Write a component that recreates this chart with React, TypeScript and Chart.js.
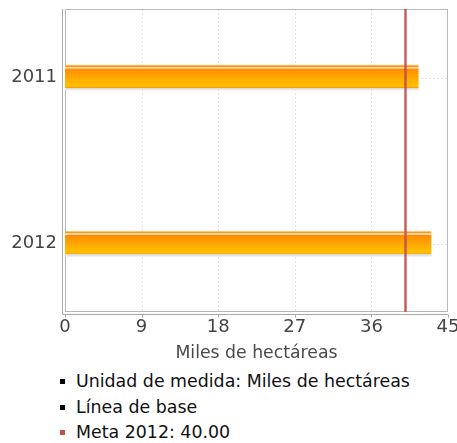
import React, { useEffect, useRef } from 'react';
import { Chart, registerables } from 'chart.js';

Chart.register(...registerables);

const CATEGORIES = ['2011', '2012'];
const VALUES = [41.5, 43.0];
const META = 40;
const X_TICKS = [0, 9, 18, 27, 36, 45];
const AXIS_TITLE = 'Miles de hectáreas';
const LEGEND_LABELS = ['Unidad de medida: Miles de hectáreas', 'Línea de base', 'Meta 2012: 40.00'];
const LEGEND_COLORS = ['#000000', '#000000', '#c0504d'];

const FONT = '"DejaVu Sans", sans-serif';
const BAR_THICK = 25;

const framePlugin = {
  id: 'frame',
  beforeDatasetsDraw(chart: any) {
    const { ctx, chartArea: a, scales } = chart;
    const xs = scales.x;
    const ys = scales.y;
    ctx.save();
    ctx.lineWidth = 1;
    ctx.strokeStyle = '#e2e2e2';
    ctx.setLineDash([2, 2]);
    X_TICKS.slice(1, -1).forEach((v) => {
      const px = Math.round(xs.getPixelForValue(v)) + 0.5;
      ctx.beginPath();
      ctx.moveTo(px, a.top);
      ctx.lineTo(px, a.bottom);
      ctx.stroke();
    });
    CATEGORIES.forEach((_, i) => {
      const py = Math.round(ys.getPixelForValue(i)) + 0.5;
      ctx.beginPath();
      ctx.moveTo(a.left, py);
      ctx.lineTo(a.right, py);
      ctx.stroke();
    });
    ctx.setLineDash([]);
    ctx.strokeStyle = '#b8b8b8';
    ctx.strokeRect(Math.round(a.left) + 0.5, Math.round(a.top) + 0.5, Math.round(a.width) - 1, Math.round(a.height) - 1);
    ctx.strokeStyle = '#a8a8a8';
    const lx = Math.round(a.left) - 3 + 0.5;
    const by = Math.round(a.bottom) + 2 + 0.5;
    ctx.beginPath();
    ctx.moveTo(lx, a.top);
    ctx.lineTo(lx, by);
    ctx.lineTo(a.right, by);
    ctx.stroke();
    X_TICKS.forEach((v) => {
      const px = Math.round(xs.getPixelForValue(v)) + 0.5;
      ctx.beginPath();
      ctx.moveTo(px, by);
      ctx.lineTo(px, by + 3);
      ctx.stroke();
    });
    ctx.restore();
  },
  afterDatasetsDraw(chart: any) {
    const { ctx, chartArea: a, scales } = chart;
    const px = Math.round(scales.x.getPixelForValue(META));
    ctx.save();
    ctx.fillStyle = 'rgba(200,80,80,0.35)';
    ctx.fillRect(px - 1, a.top, 3, a.height);
    ctx.fillStyle = 'rgba(196,76,76,0.9)';
    ctx.fillRect(px - 0.5, a.top, 2, a.height);
    ctx.restore();
  },
};

function barFill(context: any) {
  const chart = context.chart;
  const ys = chart.scales && chart.scales.y;
  if (!ys || context.type !== 'data' || !chart.chartArea) return '#ff9900';
  const yc = ys.getPixelForValue(context.dataIndex);
  if (!Number.isFinite(yc)) return '#ff9900';
  const t = yc - BAR_THICK / 2;
  const g = chart.ctx.createLinearGradient(0, t, 0, t + BAR_THICK);
  const s = (p: number) => p / BAR_THICK;
  g.addColorStop(0, 'rgba(255,170,60,0.6)');
  g.addColorStop(s(1), '#ff9410');
  g.addColorStop(s(1.9), '#ff9410');
  g.addColorStop(s(2.1), '#ffd9a8');
  g.addColorStop(s(3.4), '#ffd0a0');
  g.addColorStop(s(3.8), '#ff8c00');
  g.addColorStop(s(20.5), '#ffc000');
  g.addColorStop(s(22), '#ffb800');
  g.addColorStop(s(22.5), '#ff9c10');
  g.addColorStop(s(23), '#d8d8d8');
  g.addColorStop(1, '#ececec');
  return g;
}

export default function App() {
  const ref = useRef<HTMLCanvasElement | null>(null);

  useEffect(() => {
    if (!ref.current) return;
    const chart = new Chart(ref.current, {
      type: 'bar',
      data: {
        datasets: [
          {
            label: 'Valor',
            data: VALUES.map((v, i) => ({ x: v, y: i })),
            backgroundColor: barFill,
            borderWidth: 0,
            barThickness: BAR_THICK,
          },
        ],
      },
      plugins: [framePlugin],
      options: {
        animation: false,
        responsive: false,
        indexAxis: 'y',
        layout: { padding: { top: 9, right: 9, left: 0, bottom: 0 } },
        plugins: {
          legend: { display: false },
          tooltip: { enabled: false },
          title: { display: false },
        },
        scales: {
          x: {
            type: 'linear',
            position: 'bottom',
            min: 0,
            max: 45,
            offset: false,
            grid: { display: false, drawTicks: false, offset: false },
            border: { display: false },
            ticks: {
              stepSize: 9,
              padding: 5,
              color: '#454545',
              font: { family: FONT, size: 18 },
            },
            afterBuildTicks: (s: any) => {
              s.ticks = X_TICKS.map((v) => ({ value: v }));
            },
            afterFit: (s: any) => {
              s.height = 53;
              s.paddingLeft = 0;
              s.paddingRight = 0;
            },
            title: {
              display: true,
              text: AXIS_TITLE,
              color: '#4a4a4a',
              font: { family: FONT, size: 17.3 },
              padding: { top: 0, bottom: 1.5 },
            },
          },
          y: {
            type: 'linear',
            position: 'left',
            reverse: true,
            offset: false,
            min: -0.412,
            max: 1.41,
            grid: { display: false, drawTicks: false, offset: false },
            border: { display: false },
            ticks: {
              padding: 8,
              color: '#454545',
              font: { family: FONT, size: 18 },
              callback: (v: any) => CATEGORIES[v as number] ?? '',
            },
            afterBuildTicks: (s: any) => {
              s.ticks = CATEGORIES.map((_, i) => ({ value: i }));
            },
            afterFit: (s: any) => {
              s.width = 65;
              s.paddingTop = 0;
              s.paddingBottom = 0;
            },
          },
        },
      } as any,
    });
    return () => chart.destroy();
  }, []);

  return (
    <div style={{ position: 'absolute', left: 0, top: 0, width: 457, height: 443, overflow: 'hidden', background: '#fff' }}>
      <canvas ref={ref} width={457} height={365} style={{ display: 'block', width: 457, height: 365 }} />
      <div style={{ position: 'absolute', left: 0, top: 369.25, width: 457, fontFamily: FONT, fontSize: 17.4, color: '#111' }}>
        {LEGEND_LABELS.map((label, i) => (
          <div key={label} style={{ position: 'relative', height: 25.5 }}>
            <span
              style={{
                position: 'absolute',
                left: 60,
                top: 10,
                width: 5,
                height: 5,
                background: LEGEND_COLORS[i],
              }}
            />
            <span style={{ position: 'absolute', left: 76, top: 0, lineHeight: '25.5px', whiteSpace: 'nowrap' }}>{label}</span>
          </div>
        ))}
      </div>
    </div>
  );
}
